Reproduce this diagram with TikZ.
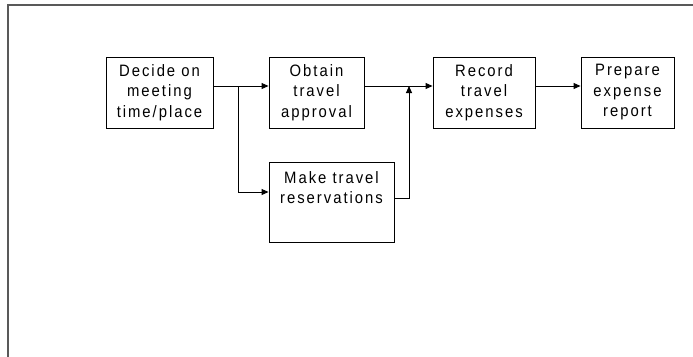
\documentclass[tikz,border=0pt]{standalone}
\usepackage{fontspec}
\setmainfont{Liberation Sans}[LetterSpace=12, FakeStretch=0.9]
\usetikzlibrary{arrows.meta}
\begin{document}
\begin{tikzpicture}[x=1pt,y=-1pt,
  box/.style={draw=black, line width=0.9pt, inner sep=0pt, align=center,
    font=\fontsize{16.5}{20.5}\selectfont},
  txt/.style={inner sep=0pt, align=center, font=\fontsize{16.5}{20.5}\selectfont},
  arr/.style={line width=0.9pt, -{Triangle[length=7pt,width=6pt]}},
  conn/.style={line width=0.9pt}]
\useasboundingbox (0,0) rectangle (693,356);
\draw[gray!70!black, line width=1.6pt] (8,357) -- (8,5) -- (694,5);
% boxes
\node[box, minimum width=107pt, minimum height=71pt] (b1) at (159.5,92.5) {Decide on\\meeting\\time/place};
\node[box, minimum width=95pt, minimum height=71pt] (b2) at (316.5,92.5) {Obtain\\travel\\approval};
\node[box, minimum width=125pt, minimum height=80pt] (b3) at (331.5,202) {};
\node[txt, anchor=north] (t3) at (331.5,171) {Make travel\\reservations};
\node[box, minimum width=102pt, minimum height=71pt] (b4) at (484,92.5) {Record\\travel\\expenses};
\node[box, minimum width=93pt, minimum height=71pt] (b5) at (627.5,92.5) {Prepare\\expense\\report};
% junctions
\coordinate (j1) at (238,86);
\coordinate (j3) at (238,192);
\coordinate (j2) at (409,86);
\coordinate (o3) at (394,198);
% connectors
\draw[arr] (b1.east|-j1) -- (b2.west|-j1);
\draw[arr] (j1) -- (j3) -- (b3.west|-j3);
\draw[arr] (b2.east|-j1) -- (b4.west|-j1);
\draw[arr] (b3.east|-o3) -| (j2);
\draw[arr] (b4.east|-j1) -- (b5.west|-j1);
\end{tikzpicture}
\end{document}
